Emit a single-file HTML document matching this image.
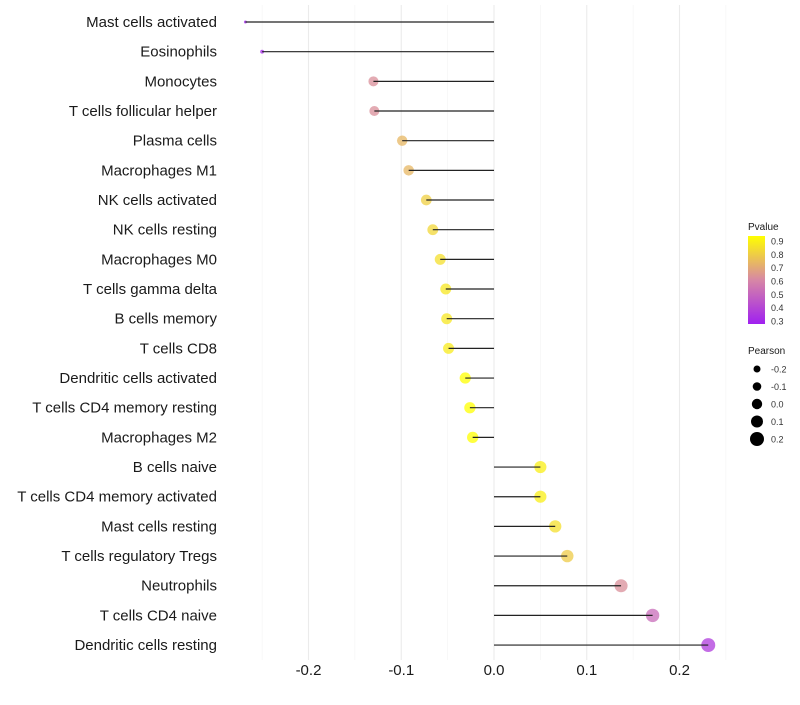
<!DOCTYPE html>
<html><head><meta charset="utf-8"><style>
body{margin:0;background:#fff;font-family:"Liberation Sans",Arial,sans-serif;}
</style></head><body>
<svg id="chart" width="800" height="700" xmlns="http://www.w3.org/2000/svg"></svg>
<script>
const categories=["Mast cells activated","Eosinophils","Monocytes","T cells follicular helper","Plasma cells","Macrophages M1","NK cells activated","NK cells resting","Macrophages M0","T cells gamma delta","B cells memory","T cells CD8","Dendritic cells activated","T cells CD4 memory resting","Macrophages M2","B cells naive","T cells CD4 memory activated","Mast cells resting","T cells regulatory  Tregs ","Neutrophils","T cells CD4 naive","Dendritic cells resting"];
const pearson=[-0.268,-0.250,-0.130,-0.129,-0.099,-0.092,-0.073,-0.066,-0.058,-0.052,-0.051,-0.049,-0.031,-0.026,-0.023,0.050,0.050,0.066,0.079,0.137,0.171,0.231];
const pvalues=[0.30,0.33,0.62,0.62,0.72,0.72,0.78,0.80,0.82,0.84,0.84,0.85,0.90,0.91,0.92,0.86,0.86,0.82,0.77,0.62,0.52,0.38];
const xTicks=[-0.2,-0.1,0.0,0.1,0.2];
const xTickLabels=["-0.2","-0.1","0.0","0.1","0.2"];
const legendP=[0.9,0.8,0.7,0.6,0.5,0.4,0.3];
const legendSizes=[-0.2,-0.1,0.0,0.1,0.2];
const legendSizeLabels=["-0.2","-0.1","0.0","0.1","0.2"];

const NS="http://www.w3.org/2000/svg";
const svg=document.getElementById('chart');
function el(t,a,p){const e=document.createElementNS(NS,t);for(const k in a)e.setAttribute(k,a[k]);(p||svg).appendChild(e);return e;}
const x=v=>494+v*927.5;
const y=i=>22+i*29.67;
function rad(v){
  if(v<-0.13) return 1.5+(v+0.268)/0.138*3.5;
  return Math.sqrt(25+66*(v+0.13));
}
function col(p){
  const t=Math.max(0,Math.min(1,(p-0.3)/0.6));
  const stops=[[160,32,240],[215,135,165],[255,255,0]];
  let a,b,u;
  if(t<0.5){a=stops[0];b=stops[1];u=t/0.5;}else{a=stops[1];b=stops[2];u=(t-0.5)/0.5;}
  return `rgb(${a.map((c,i)=>Math.round(c+(b[i]-c)*u)).join(',')})`;
}
for(let v=-0.25;v<=0.2501;v+=0.05){
  const major=Math.abs(Math.round(v*20))%2===0;
  const g=el('line',{x1:x(v),x2:x(v),y1:5,y2:660,stroke:major?'#ebebeb':'#f3f3f3','stroke-width':major?1.1:0.6});
  
  
}
categories.forEach((c,i)=>{
  const t=el('text',{x:217,y:y(i)+5,'text-anchor':'end','font-size':15,fill:'#1a1a1a'});
  t.textContent=c;
  
  
  const d=el('circle',{cx:x(pearson[i]),cy:y(i),r:rad(pearson[i]),fill:col(pvalues[i]),'fill-opacity':0.75});
  
  
  const l=el('line',{x1:x(0),x2:x(pearson[i]),y1:y(i),y2:y(i),stroke:'#222','stroke-width':1.2});
  
  
});
xTicks.forEach((v,i)=>{
  const t=el('text',{x:x(v),y:675,'text-anchor':'middle','font-size':15,fill:'#1a1a1a'});
  t.textContent=xTickLabels[i];
  
  
});
const defs=el('defs',{});
const lg=el('linearGradient',{id:'pg',x1:0,y1:1,x2:0,y2:0},defs);
for(let k=0;k<=10;k++){el('stop',{offset:k/10,'stop-color':col(0.3+0.6*k/10)},lg);}
const lt=el('text',{x:748,y:230,'font-size':10,fill:'#1a1a1a'});lt.textContent='Pvalue';


const py=p=>321-(p-0.3)/0.6*80;
const bar=el('rect',{x:748,y:236,width:17,height:88,fill:'url(#pg)'});


legendP.forEach(p=>{
  const t=el('text',{x:771,y:py(p)+3.5,'font-size':9,fill:'#333'});t.textContent=p.toFixed(1);
  
  
});
const st=el('text',{x:748,y:354,'font-size':10,fill:'#1a1a1a'});st.textContent='Pearson';


const legR=[3.5,4.3,5.2,6.0,7.0];
legendSizes.forEach((v,i)=>{
  const cy=369+i*17.5;
  const c=el('circle',{cx:757,cy:cy,r:legR[i],fill:'#000'});
  
  
  const t=el('text',{x:771,y:cy+3.5,'font-size':9,fill:'#333'});t.textContent=legendSizeLabels[i];
  
  
});
</script>
</body></html>
